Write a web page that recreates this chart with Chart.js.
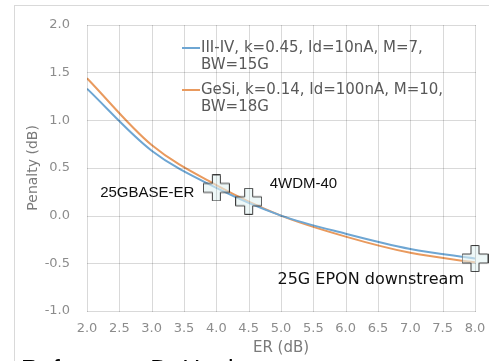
<!DOCTYPE html>
<html lang="en">
<head>
    <meta charset="UTF-8">
    <title>Penalty vs ER</title>
    <script src="https://cdn.jsdelivr.net/npm/chart.js"></script>
    <style>
        html, body { margin: 0; padding: 0; background: #fff; }
    </style>
</head>
<body>
    <canvas id="penaltyChart" width="489" height="361"></canvas>

    <script>
        // values
        const erValues = [2.0, 3.0, 4.0, 5.0, 6.0, 7.0, 8.0];
        const penaltyIIIV = [1.33, 0.68, 0.29, 0.0, -0.19, -0.35, -0.45];
        const penaltyGeSi = [1.44, 0.74, 0.32, 0.0, -0.22, -0.39, -0.49];

        const markerER = [4.0, 4.5, 8.0];
        const markerPenalty = [0.29, 0.15, -0.45];
        const markerNames = ['25GBASE-ER', '4WDM-40', '25G EPON downstream'];

        const legendIIIV = ['III-IV, k=0.45, Id=10nA, M=7,', 'BW=15G'];
        const legendGeSi = ['GeSi, k=0.14, Id=100nA, M=10,', 'BW=18G'];

        const blue = '#6ea6d3';
        const orange = '#e99a5e';
        const gridCol = '#d9d9d9';

        // outlined plus sign used as the point style
        function makeCross(size) {
            const c = document.createElement('canvas');
            c.width = size; c.height = size;
            const g = c.getContext('2d');
            const a = Math.round(size / 3), b = size - a;
            g.beginPath();
            g.moveTo(a + 0.5, 0.5); g.lineTo(b - 0.5, 0.5); g.lineTo(b - 0.5, a);
            g.lineTo(size - 0.5, a); g.lineTo(size - 0.5, b); g.lineTo(b - 0.5, b);
            g.lineTo(b - 0.5, size - 0.5); g.lineTo(a + 0.5, size - 0.5); g.lineTo(a + 0.5, b);
            g.lineTo(0.5, b); g.lineTo(0.5, a); g.lineTo(a + 0.5, a);
            g.closePath();
            g.fillStyle = 'rgba(226,244,244,0.6)';
            g.fill();
            g.strokeStyle = '#3c3c3c';
            g.lineWidth = 1;
            g.stroke();
            return c;
        }
        const crossImg = makeCross(27);

        const extras = {
            id: 'extras',
            afterDraw(chart) {
                const ctx = chart.ctx;
                const a = chart.chartArea;
                const xs = chart.scales.x, ys = chart.scales.y;
                ctx.save();

                // gridlines as 1px rectangles, multiplied so the curves stay visible
                ctx.globalCompositeOperation = 'multiply';
                ctx.globalAlpha = 1;
                ctx.fillStyle = gridCol;
                const w = Math.round(a.right - a.left), h = Math.round(a.bottom - a.top);
                xs.ticks.forEach(t => {
                    ctx.fillRect(Math.round(xs.getPixelForValue(t.value)), Math.round(a.top), 1, h + 1);
                });
                ys.ticks.forEach(t => {
                    ctx.fillRect(Math.round(a.left), Math.round(ys.getPixelForValue(t.value)), w + 1, 1);
                });
                ctx.globalCompositeOperation = 'source-over';

                // outer frame of the figure
                ctx.fillRect(14, 5, 1, chart.height - 5);
                ctx.fillRect(14, 5, chart.width - 14, 1);

                // legend inside the plot
                ctx.font = '15px "DejaVu Sans"';
                ctx.textBaseline = 'middle';
                ctx.textAlign = 'left';
                ctx.fillStyle = '#595959';
                [[legendIIIV, blue, 48], [legendGeSi, orange, 90]].forEach(([lines, col, y]) => {
                    ctx.strokeStyle = col;
                    ctx.lineWidth = 2;
                    ctx.beginPath();
                    ctx.moveTo(182, y);
                    ctx.lineTo(200, y);
                    ctx.stroke();
                    lines.forEach((t, i) => ctx.fillText(t, 201, y + i * 17));
                });

                // marker labels
                ctx.fillStyle = '#111';
                const px = markerER.map(v => xs.getPixelForValue(v));
                const py = markerPenalty.map(v => ys.getPixelForValue(v));
                ctx.font = '15px "Liberation Sans", Arial';
                ctx.textAlign = 'right';
                ctx.fillText(markerNames[0], px[0] - 22, py[0] + 5);
                ctx.textAlign = 'left';
                ctx.fillText(markerNames[1], px[1] + 21, py[1] - 17);
                ctx.font = '16px "DejaVu Sans"';
                ctx.textAlign = 'right';
                ctx.fillText(markerNames[2], px[2] - 11, py[2] + 21);

                // caption cut off at the bottom
                ctx.font = '25px "Liberation Sans", Arial';
                ctx.textAlign = 'left';
                ctx.textBaseline = 'alphabetic';
                ctx.fillStyle = '#000';
                ctx.fillText('Reference: D. Hauk', 21, 378);
                ctx.restore();
            }
        };

        const chart = new Chart(document.getElementById('penaltyChart'), {
            type: 'line',
            data: {
                datasets: [
                    {
                        label: 'markers',
                        data: markerER.map((x, i) => ({ x: x, y: markerPenalty[i] })),
                        showLine: false,
                        pointStyle: crossImg,
                        pointRadius: 13,
                        clip: false,
                        order: 0
                    },
                    {
                        label: legendIIIV.join(' '),
                        data: erValues.map((x, i) => ({ x: x, y: penaltyIIIV[i] })),
                        borderColor: blue,
                        borderWidth: 2,
                        pointRadius: 0,
                        cubicInterpolationMode: 'monotone',
                        order: 1
                    },
                    {
                        label: legendGeSi.join(' '),
                        data: erValues.map((x, i) => ({ x: x, y: penaltyGeSi[i] })),
                        borderColor: orange,
                        borderWidth: 2,
                        pointRadius: 0,
                        cubicInterpolationMode: 'monotone',
                        order: 2
                    }
                ]
            },
            options: {
                responsive: false,
                animation: false,
                layout: { padding: { left: 0, right: 11, top: 21, bottom: 0 } },
                plugins: {
                    legend: { display: false },
                    tooltip: { enabled: false }
                },
                scales: {
                    x: {
                        type: 'linear',
                        min: 2, max: 8,
                        ticks: {
                            stepSize: 0.5,
                            padding: 10,
                            color: '#8c8c8c',
                            font: { family: 'DejaVu Sans', size: 13 },
                            callback: v => v.toFixed(1)
                        },
                        grid: { display: false, drawTicks: false },
                        border: { display: false },
                        title: {
                            display: true,
                            text: 'ER (dB)',
                            color: '#7a7a7a',
                            font: { family: 'DejaVu Sans', size: 15 },
                            padding: { top: 4, bottom: 4 }
                        },
                        afterFit: s => { s.height = 50; s.paddingLeft = 0; s.paddingRight = 0; }
                    },
                    y: {
                        min: -1, max: 2,
                        ticks: {
                            stepSize: 0.5,
                            padding: 17,
                            color: '#8c8c8c',
                            font: { family: 'DejaVu Sans', size: 13 },
                            callback: v => v.toFixed(1)
                        },
                        grid: { display: false, drawTicks: false },
                        border: { display: false },
                        title: {
                            display: true,
                            text: 'Penalty (dB)',
                            color: '#7a7a7a',
                            font: { family: 'DejaVu Sans', size: 14 },
                            padding: { top: 25, bottom: 0 }
                        },
                        afterFit: s => { s.width = 87; }
                    }
                }
            },
            plugins: [extras]
        });
    </script>
</body>
</html>
